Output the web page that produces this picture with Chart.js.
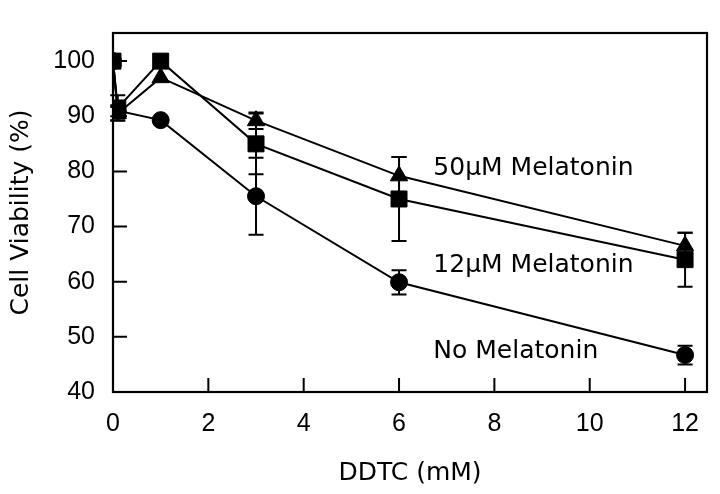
<!DOCTYPE html>
<html>
<head>
<meta charset="utf-8">
<style>
  html, body { margin: 0; padding: 0; background: #fff; }
  #wrap { width: 720px; height: 494px; }
</style>
<script src="https://cdn.jsdelivr.net/npm/chart.js@4.4.1/dist/chart.umd.min.js"></script>
</head>
<body>
<div id="wrap"><canvas id="c" width="720" height="494"></canvas></div>
<script>
// DDTC concentrations (mM)
const ddtc = [0, 0.1, 1, 3, 6, 12];
// Cell viability (%) per series, with error bar half-widths
const noMelatonin    = [100, 91.0, 89.3, 75.5, 59.9, 46.7];
const noMelatoninErr = [0, 1.0, 0, 7.0, 2.2, 1.7];
const mel12          = [100, 91.5, 100, 85.0, 75.0, 64.0];
const mel12Err       = [0, 2.3, 0, 5.5, 7.6, 4.9];
const mel50          = [100, 90.5, 97.0, 89.2, 79.2, 66.5];
const mel50Err       = [0, 1.2, 0, 1.5, 3.4, 2.4];
const seriesNames    = ['No Melatonin', '12\u00B5M Melatonin', '50\u00B5M Melatonin'];
const xTicks = [0, 2, 4, 6, 8, 10, 12];
const yTicks = [40, 50, 60, 70, 80, 90, 100];

function pts(ys) { return ddtc.map((x, i) => ({ x: x, y: ys[i] })); }

const labelFont = '25px "DejaVu Sans"';

const errorBarPlugin = {
  id: 'errorBars',
  afterDatasetsDraw(chart) {
    const ctx = chart.ctx;
    const xs = chart.scales.x, ys = chart.scales.y;
    ctx.save();
    ctx.strokeStyle = '#000';
    ctx.lineWidth = 2;
    chart.data.datasets.forEach(ds => {
      const errs = ds.errors;
      ds.data.forEach((p, i) => {
        const e = errs[i];
        if (!e) return;
        const px = xs.getPixelForValue(p.x);
        const yt = ys.getPixelForValue(p.y + e);
        const yb = ys.getPixelForValue(p.y - e);
        ctx.beginPath();
        ctx.moveTo(px, yt); ctx.lineTo(px, yb);
        ctx.moveTo(px - 7.5, yt); ctx.lineTo(px + 7.5, yt);
        ctx.moveTo(px - 7.5, yb); ctx.lineTo(px + 7.5, yb);
        ctx.stroke();
      });
    });
    ctx.restore();
  }
};

const framePlugin = {
  id: 'frame',
  afterDraw(chart) {
    const ctx = chart.ctx;
    const a = chart.chartArea;
    const xs = chart.scales.x, ys = chart.scales.y;
    ctx.save();
    ctx.strokeStyle = '#000';
    ctx.lineWidth = 2.2;
    ctx.strokeRect(a.left, a.top, a.right - a.left, a.bottom - a.top);
    // inward tick marks
    ctx.lineWidth = 2;
    ctx.beginPath();
    xTicks.forEach(v => {
      if (v === xs.min) return;
      const px = xs.getPixelForValue(v);
      ctx.moveTo(px, a.bottom); ctx.lineTo(px, a.bottom - 14);
    });
    yTicks.forEach(v => {
      if (v === ys.min) return;
      const py = ys.getPixelForValue(v);
      ctx.moveTo(a.left, py); ctx.lineTo(a.left + 14, py);
    });
    ctx.stroke();
    // series annotations
    ctx.fillStyle = '#000';
    ctx.font = labelFont;
    ctx.textAlign = 'left';
    ctx.textBaseline = 'middle';
    const ann = [[seriesNames[2], 6.72, 80.5], [seriesNames[1], 6.72, 63.0], [seriesNames[0], 6.72, 47.3]];
    ann.forEach(([t, x, y]) => {
      ctx.fillText(t, xs.getPixelForValue(x), ys.getPixelForValue(y));
    });
    ctx.restore();
  }
};

const common = {
  borderColor: '#000',
  backgroundColor: '#000',
  pointBackgroundColor: '#000',
  pointBorderColor: '#000',
  borderWidth: 2,
  pointBorderWidth: 1,
  tension: 0,
  fill: false
};

new Chart(document.getElementById('c'), {
  type: 'line',
  data: {
    datasets: [
      Object.assign({ label: seriesNames[0], data: pts(noMelatonin), errors: noMelatoninErr, pointStyle: 'circle', pointRadius: 8.5 }, common),
      Object.assign({ label: seriesNames[1], data: pts(mel12), errors: mel12Err, pointStyle: 'rect', pointRadius: 11.3 }, common),
      Object.assign({ label: seriesNames[2], data: pts(mel50), errors: mel50Err, pointStyle: 'triangle', pointRadius: 10 }, common)
    ]
  },
  options: {
    responsive: false,
    animation: false,
    events: [],
    layout: { padding: { top: 7, right: 13, left: 0, bottom: 0 } },
    plugins: { legend: { display: false }, tooltip: { enabled: false } },
    scales: {
      x: {
        type: 'linear',
        min: 0,
        max: 12.46,
        afterFit(s) { s.height = 102; },
        afterBuildTicks(s) { s.ticks = xTicks.map(v => ({ value: v })); },
        grid: { display: false, drawTicks: false, tickLength: 0 },
        border: { display: false },
        ticks: { color: '#000', padding: 17, font: { family: '"Liberation Sans", Arial', size: 25 }, maxRotation: 0, autoSkip: false },
        title: { display: true, text: 'DDTC (mM)', color: '#000', font: { family: '"DejaVu Sans"', size: 25 }, padding: { top: 0, bottom: 6 } }
      },
      y: {
        min: 40,
        max: 105.1,
        afterFit(s) { s.width = 113; },
        afterBuildTicks(s) { s.ticks = yTicks.map(v => ({ value: v })); },
        grid: { display: false, drawTicks: false, tickLength: 0 },
        border: { display: false },
        ticks: { color: '#000', padding: 18, font: { family: '"Liberation Sans", Arial', size: 25 }, autoSkip: false },
        title: { display: true, text: 'Cell Viability (%)', color: '#000', font: { family: '"DejaVu Sans"', size: 25 }, padding: { top: 6, bottom: 0 } }
      }
    }
  },
  plugins: [errorBarPlugin, framePlugin]
});
</script>
</body>
</html>
